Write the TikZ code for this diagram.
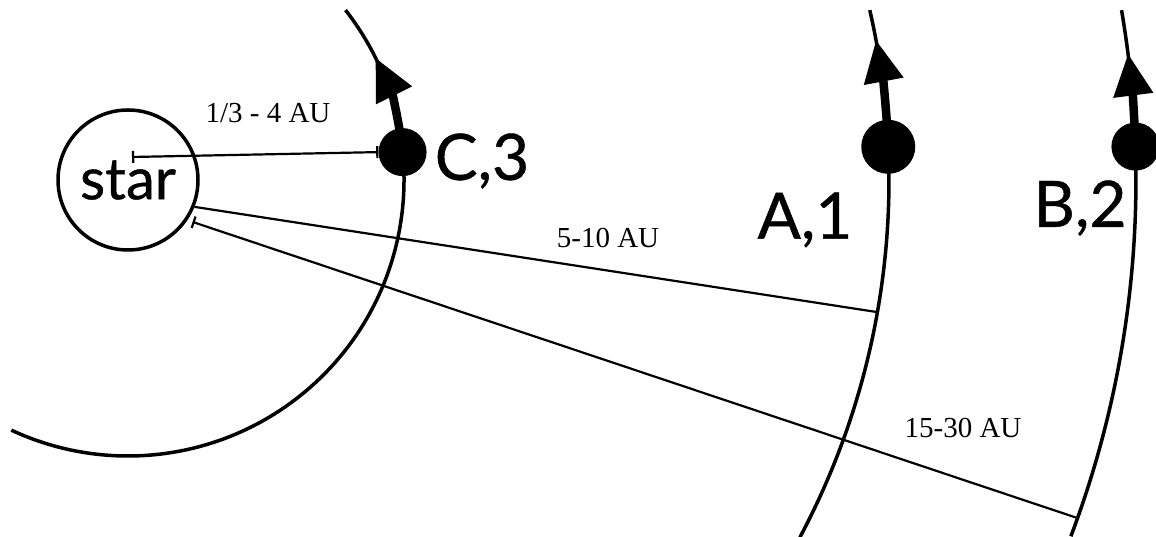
\documentclass[tikz,border=0pt]{standalone}
\usepackage{fontspec}
\setmainfont{Liberation Serif}
\newfontfamily\labelfont[FakeBold=0.7]{Lato}
\usetikzlibrary{arrows.meta}

\begin{document}
\begin{tikzpicture}[x=1pt, y=1pt,
  orbit/.style={line width=3.5pt},
  motion/.style={line width=8.5pt, -{Triangle[width=38pt, length=42pt]}},
  gap/.style={line width=2.2pt},
  planet/.style={circle, fill=black, inner sep=0pt, minimum size=#1},
  bodyname/.style={font=\labelfont\fontsize{64}{64}\selectfont},
  dist/.style={font=\fontsize{29}{29}\selectfont}]
\useasboundingbox (0,0) rectangle (1156,537);
\node[circle, draw, line width=3.5pt, minimum size=140pt, inner sep=0pt,
  font=\labelfont\fontsize{58}{58}\selectfont] (star) at (128,357) {star};
% orbits
\draw[orbit] (star.center) ++(38:276) arc[start angle=38, end angle=-115, radius=276];
\draw[orbit] (star.center) ++(12.9:761) arc[start angle=12.9, end angle=-28, radius=761];
\draw[orbit] (star.center) ++(9.7:1008) arc[start angle=9.7, end angle=-20.7, radius=1008];
% direction of motion
\draw[motion] (star.center) ++(5.8:276) arc[start angle=5.8, end angle=26.3, radius=276];
\draw[motion] (star.center) ++(2.5:761) arc[start angle=2.5, end angle=10.6, radius=761];
\draw[motion] (star.center) ++(1.9:1008) arc[start angle=1.9, end angle=7.2, radius=1008];
% planets
\path (star.center) ++(5.8:276) node[planet=48pt] (C) {};
\path (star.center) ++(2.5:761) node[planet=54pt] (A) {};
\path (star.center) ++(1.9:1008) node[planet=48pt] (B) {};
\node[bodyname] (Cname) at (482,376) {C,3};
\node[bodyname] (Aname) at (805,317) {A,1};
\node[bodyname] (Bname) at (1080,329) {B,2};
% distances
\coordinate (c0) at (132,380);
\path (star.center) ++(-10:761) coordinate (a1);
\path (star.center) ++(-33:77) coordinate (b0);
\path (star.center) ++(-19.6:1008) coordinate (b1);
\draw[gap, {Bar[width=12pt]}-{Bar[width=12pt]}] (c0) -- (C.west);
\draw[gap] (star.-22) -- (a1);
\draw[gap, {Bar[width=12pt]}-] (b0) -- (b1);
\node[dist] (cdist) at (268,424) {1/3 - 4 AU};
\node[dist] (adist) at (608,299) {5-10 AU};
\node[dist] (bdist) at (963,109) {15-30 AU};
\end{tikzpicture}
\end{document}
